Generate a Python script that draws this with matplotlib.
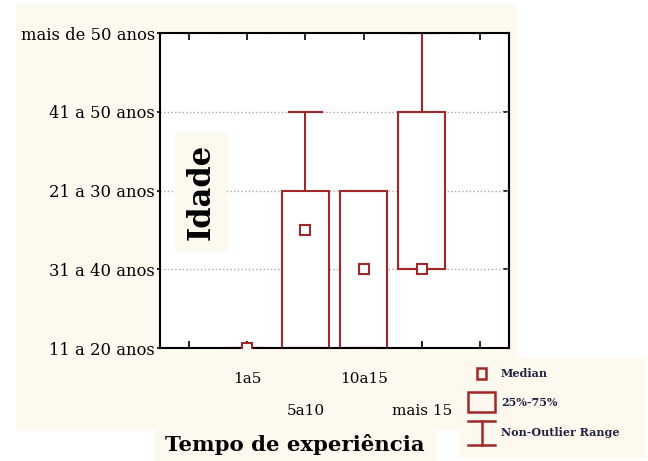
import matplotlib
matplotlib.use("Agg")
import matplotlib.pyplot as plt
from matplotlib.patches import Rectangle

# dados
idade_labels = ['11 a 20 anos', '31 a 40 anos', '21 a 30 anos', '41 a 50 anos', 'mais de 50 anos']
tempo_labels = ['', '1a5', '5a10', '10a15', 'mais 15', '']
grupos = ['1a5', '5a10', '10a15', 'mais 15']
mediana = [1, 2.5, 2, 2]
q25 = [1, 1, 1, 2]
q75 = [1, 3, 3, 4]
min_nao_outlier = [1, 1, 1, 2]
max_nao_outlier = [1, 4, 3, 5]

vermelho = '#a02828'
creme = '#fef9ef'

plt.rcParams['font.family'] = 'DejaVu Serif'

fig = plt.figure(figsize=(6.48, 4.61), dpi=100)

# fundo creme (coordenadas em pixels)
bg = fig.add_axes([0, 0, 1, 1], zorder=-1)
bg.set_xlim(0, 648)
bg.set_ylim(461, 0)
bg.axis('off')
for (x0, y0, x1, y1) in [(16, 5, 517, 429), (155, 429, 436, 461),
                         (436, 358, 645, 430), (460, 430, 645, 458)]:
    bg.add_patch(Rectangle((x0, y0), x1 - x0, y1 - y0, facecolor=creme, edgecolor='none'))

ax = fig.add_axes([160 / 648, 1 - 348 / 461, 349 / 648, 315 / 461])
ax.set_facecolor('white')

pos = [tempo_labels.index(g) + 1 for g in grupos]
stats = []
for i in range(len(grupos)):
    stats.append({'med': mediana[i], 'q1': q25[i], 'q3': q75[i],
                  'whislo': min_nao_outlier[i], 'whishi': max_nao_outlier[i],
                  'fliers': []})

ax.bxp(stats, positions=pos, widths=0.8, capwidths=0.57, patch_artist=True,
       showfliers=False,
       boxprops=dict(facecolor='white', edgecolor=vermelho, linewidth=1.5),
       whiskerprops=dict(color=vermelho, linewidth=1.5),
       capprops=dict(color=vermelho, linewidth=1.5),
       medianprops=dict(visible=False))
ax.plot(pos, mediana, linestyle='none', marker='s', markersize=7,
        markerfacecolor='white', markeredgecolor=vermelho, markeredgewidth=1.5, zorder=4)

ax.set_xlim(0.5, 6.5)
ax.set_ylim(1, 5)
ax.set_yticks(range(1, 6))
ax.set_yticklabels(idade_labels, fontsize=11.8)
ax.set_xticks(range(1, 7))
xl = []
for i, t in enumerate(tempo_labels):
    if i % 2 == 0 and t != '':
        t = '\n' + t
    xl.append(t)
ax.set_xticklabels(xl, fontsize=11, linespacing=2.65)
ax.tick_params(axis='x', direction='in', top=True, length=5, width=1.2, pad=17)
ax.tick_params(axis='y', direction='out', length=2.5, width=1.2, pad=1)
sec = ax.secondary_yaxis('right')
sec.set_yticks(range(1, 6))
sec.tick_params(direction='in', length=4, width=1.2, labelright=False)
sec.spines['right'].set_linewidth(1.5)
for s in ax.spines.values():
    s.set_linewidth(1.5)

ax.set_axisbelow(True)
ax.yaxis.grid(True, linestyle=':', color='#a8a8a8', linewidth=1)

ax.set_xlabel('Tempo de experiência', fontsize=15.3, fontweight='bold')
ax.xaxis.set_label_coords((295 - 160) / 349, (348 - 434) / 315)

ax.text(0.118, 0.495, 'Idade', transform=ax.transAxes, rotation=90, fontsize=22,
        fontweight='bold', ha='center', va='center', zorder=5,
        bbox=dict(boxstyle='square,pad=0.35', facecolor=creme, edgecolor='none'))

# legenda desenhada a mao
bg.add_patch(Rectangle((477, 368), 9, 11, facecolor='none', edgecolor=vermelho, linewidth=1.8))
bg.add_patch(Rectangle((468, 392), 27, 20, facecolor='none', edgecolor=vermelho, linewidth=1.8))
bg.plot([468, 495], [421, 421], color=vermelho, linewidth=1.8)
bg.plot([481.5, 481.5], [421, 445], color=vermelho, linewidth=1.8)
bg.plot([468, 495], [445, 445], color=vermelho, linewidth=1.8)
for txt, yy in [('Median', 373), ('25%-75%', 402), ('Non-Outlier Range', 432)]:
    bg.text(501, yy, txt, fontsize=8, fontweight='bold', va='center', ha='left', color='#222244')

fig.savefig('out.png', dpi=100)
